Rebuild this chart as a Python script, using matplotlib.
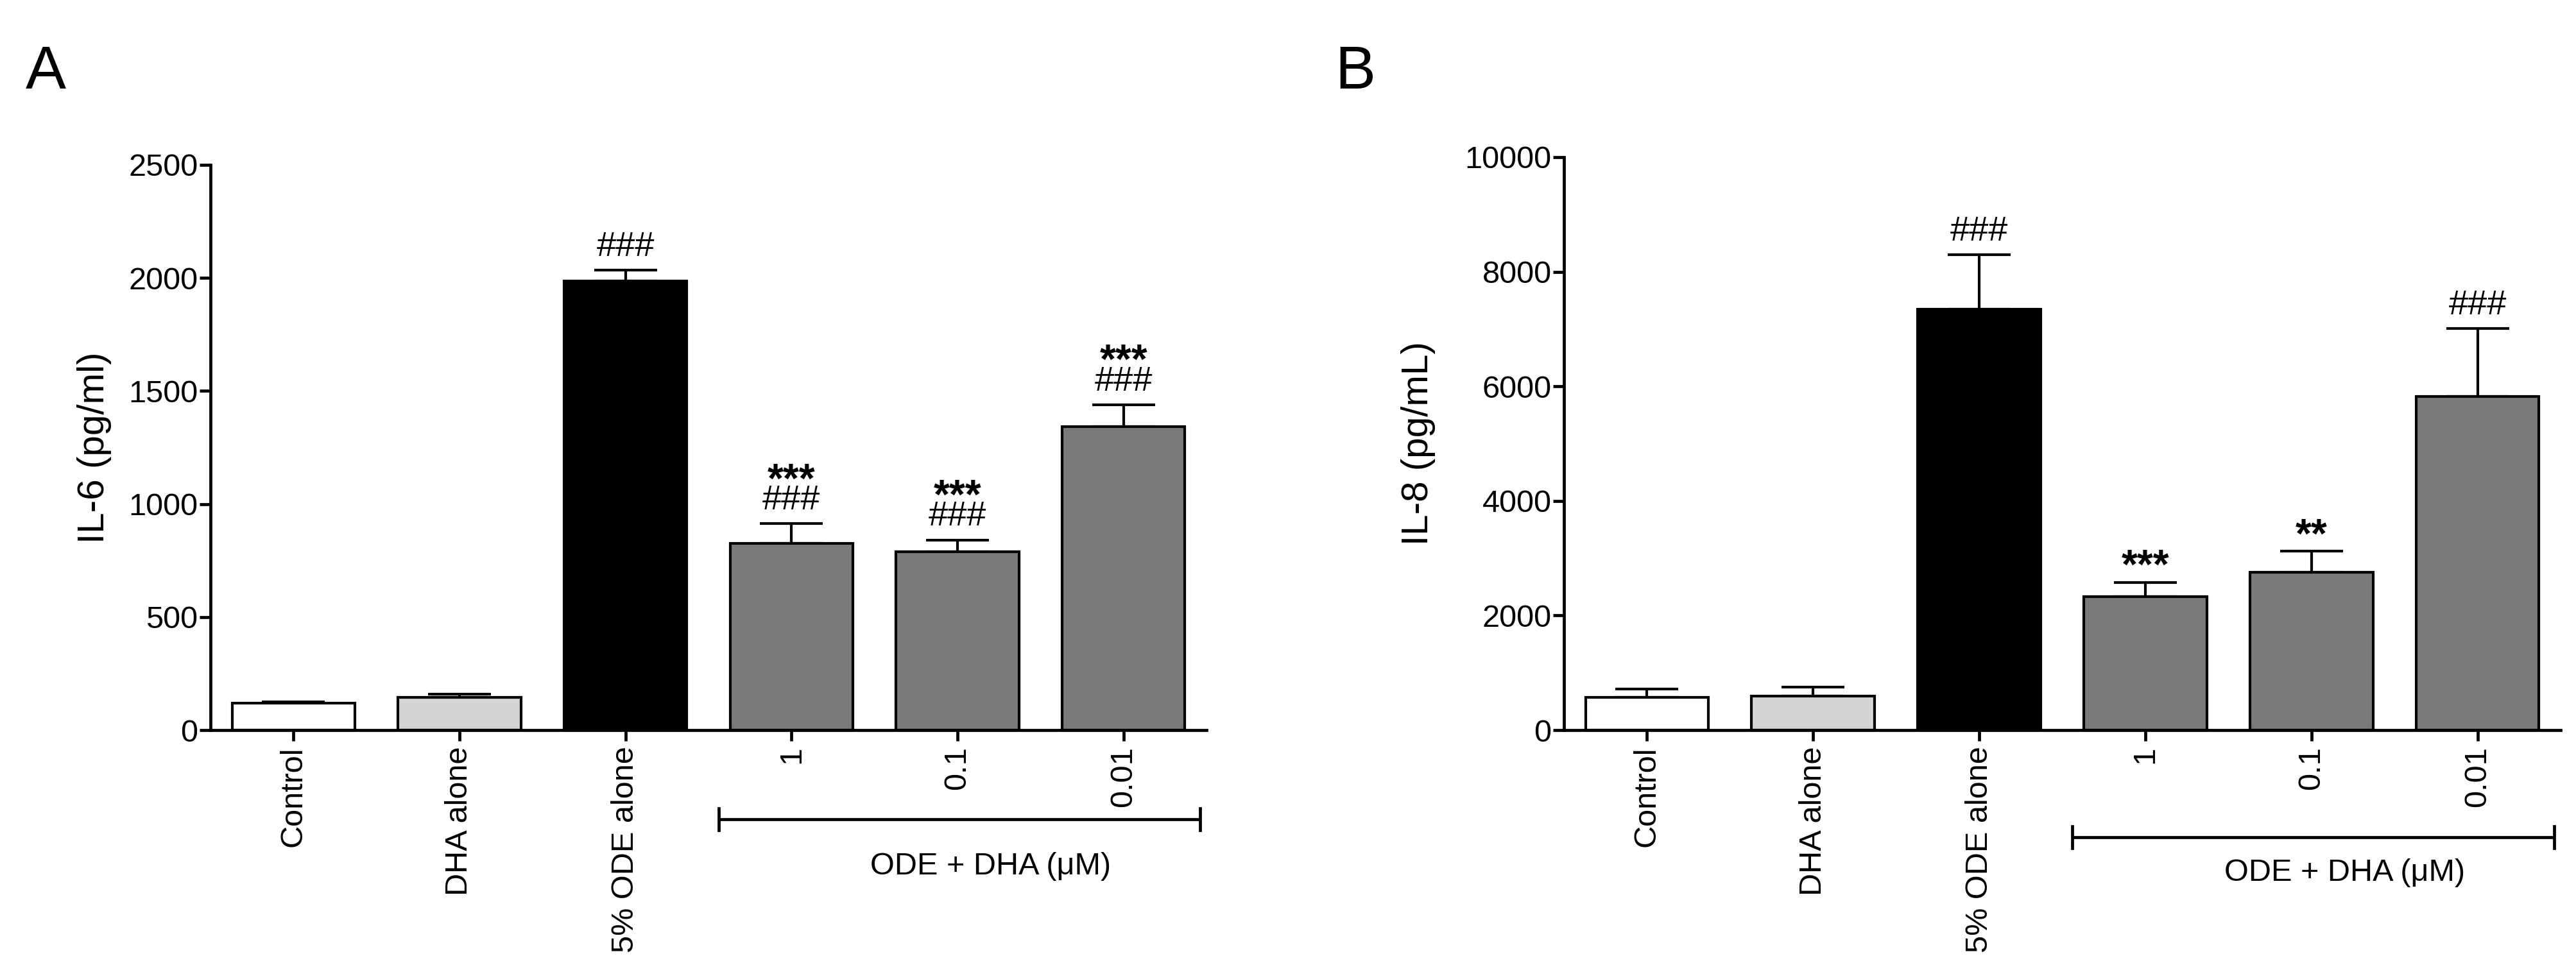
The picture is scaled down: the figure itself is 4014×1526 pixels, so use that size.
import matplotlib
matplotlib.use("Agg")
from matplotlib import pyplot as plt
from matplotlib import transforms
import numpy as np

plt.rcParams['font.family'] = ['Liberation Sans', 'DejaVu Sans']

# data
groups = ['Control', 'DHA alone', '5% ODE alone', '1', '0.1', '0.01']
colors = ['white', '#d4d4d4', 'black', '#7a7a7a', '#7a7a7a', '#7a7a7a']

il6_mean = [120, 145, 1985, 825, 788, 1342]
il6_sem = [6, 15, 50, 88, 53, 97]
il6_hash = ['', '', '###', '###', '###', '###']
il6_star = ['', '', '', '***', '***', '***']

il8_mean = [570, 590, 7350, 2330, 2750, 5820]
il8_sem = [145, 165, 950, 250, 370, 1190]
il8_hash = ['', '', '###', '', '', '###']
il8_star = ['', '', '', '***', '**', '']

W, H = 4014, 1526
fig = plt.figure(figsize=(W / 100, H / 100), dpi=100)

lw = 3.4


def panel(rect, mean, sem, ymax, yticks, ylabel, labx, hashes, stars,
          letter, letx, br_y, txt_y):
    ax = fig.add_axes(rect)
    x = np.arange(len(groups))
    ax.bar(x, mean, width=0.74, color=colors, edgecolor='black',
           linewidth=3.0, zorder=3)
    ax.errorbar(x, mean, yerr=[np.zeros(len(sem)), sem], fmt='none',
                ecolor='black', elinewidth=3.0, capsize=35, capthick=3.0,
                zorder=2)
    ax.set_xlim(-0.5, 5.5)
    ax.set_ylim(0, ymax)
    ax.set_yticks(yticks)
    ax.set_xticks(x)
    ax.set_xticklabels(groups, rotation=90)
    for s in ['top', 'right']:
        ax.spines[s].set_visible(False)
    for s in ['left', 'bottom']:
        ax.spines[s].set_linewidth(lw)
    ax.tick_params(axis='both', direction='out', length=12, width=lw,
                   labelsize=35)
    ax.tick_params(axis='y', pad=2)
    ax.tick_params(axis='x', pad=6)
    ax.set_ylabel(ylabel, fontsize=42)
    ax.yaxis.set_label_coords(labx, 0.5)

    # significance marks
    for i in range(len(groups)):
        top = mean[i] + sem[i]
        if hashes[i]:
            ax.annotate(hashes[i], (i, top), xytext=(0, 16),
                        textcoords='offset points', ha='center',
                        va='baseline', fontsize=39)
            if stars[i]:
                ax.annotate(stars[i], (i, top), xytext=(0, 35),
                            textcoords='offset points', ha='center',
                            va='baseline', fontsize=46, fontweight='bold')
        elif stars[i]:
            ax.annotate(stars[i], (i, top), xytext=(0, 4),
                        textcoords='offset points', ha='center',
                        va='baseline', fontsize=46, fontweight='bold')

    # bracket under the ODE + DHA group
    tr = transforms.blended_transform_factory(ax.transData, ax.transAxes)
    x0, x1 = 2.56, 5.46
    ax.plot([x0, x1], [br_y, br_y], color='black', lw=lw, transform=tr,
            clip_on=False, solid_capstyle='butt')
    for xe in (x0, x1):
        ax.plot([xe, xe], [br_y - 0.019, br_y + 0.019], color='black', lw=lw,
                transform=tr, clip_on=False)
    ax.text(4.2, txt_y, 'ODE + DHA (\u03bcM)', transform=tr, ha='center',
            va='center', fontsize=35)

    fig.text(letx, 1 - 138 / H, letter, fontsize=68, ha='left',
             va='baseline')
    return ax


panel([328 / W, (H - 1138) / H, 1552 / W, 881 / H], il6_mean, il6_sem, 2500,
      np.arange(0, 2501, 500), 'IL-6 (pg/ml)', -0.099, il6_hash, il6_star,
      'A', 40 / W, -0.158, -0.241)
panel([2437 / W, (H - 1138) / H, 1553 / W, 893 / H], il8_mean, il8_sem, 10000,
      np.arange(0, 10001, 2000), 'IL-8 (pg/mL)', -0.129, il8_hash, il8_star,
      'B', 2080 / W, -0.187, -0.249)

fig.savefig('out.png', dpi=100)
